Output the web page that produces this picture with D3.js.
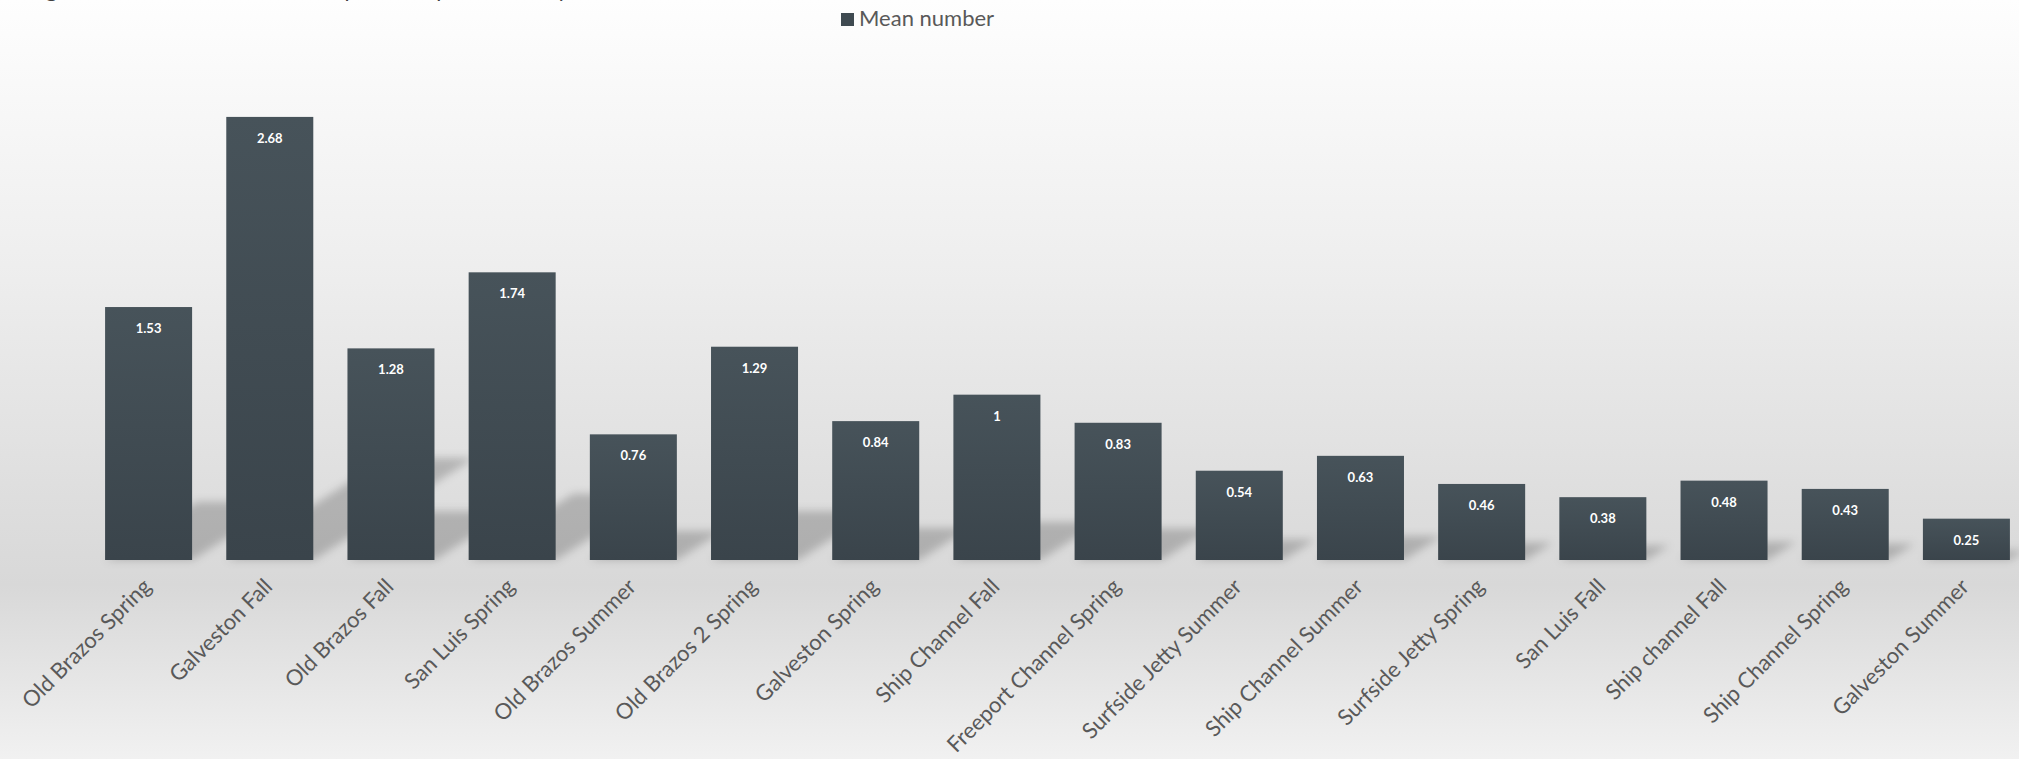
<!DOCTYPE html>
<html>
<head>
<meta charset="utf-8">
<script src="https://cdn.jsdelivr.net/npm/d3@7"></script>
<style>
  html, body { margin: 0; padding: 0; overflow: hidden; background: #fff; }
  svg { display: block; font-family: Lato, "Open Sans", sans-serif; }
</style>
</head>
<body>
<svg id="chart" width="2019" height="759"></svg>
<script>
// Mean number per site and season
const categories = [
  "Old Brazos Spring", "Galveston Fall", "Old Brazos Fall", "San Luis Spring",
  "Old Brazos Summer", "Old Brazos 2 Spring", "Galveston Spring", "Ship Channel Fall",
  "Freeport Channel Spring", "Surfside Jetty Summer", "Ship Channel Summer",
  "Surfside Jetty Spring", "San Luis Fall", "Ship channel Fall", "Ship Channel Spring",
  "Galveston Summer"
];
const meanNumber = [1.53, 2.68, 1.28, 1.74, 0.76, 1.29, 0.84, 1, 0.83, 0.54, 0.63, 0.46, 0.38, 0.48, 0.43, 0.25];
const seriesName = "Mean number";
const titleText = "Figure 4. Mean number of fishes per trawl per season by site";

const W = 2019, H = 759;
const baseY = 560;

const svg = d3.select("#chart");
const defs = svg.append("defs");

// chart area background: light at top, darker toward the axis, lighter at the bottom
const bg = defs.append("linearGradient").attr("id", "bg").attr("x1", 0).attr("y1", 0).attr("x2", 0).attr("y2", 1);
bg.append("stop").attr("offset", "0").attr("stop-color", "#fefefe");
bg.append("stop").attr("offset", "0.35").attr("stop-color", "#eeeeee");
bg.append("stop").attr("offset", "0.77").attr("stop-color", "#d8d8d8");
bg.append("stop").attr("offset", "1").attr("stop-color", "#f1f1f1");

const barGrad = defs.append("linearGradient").attr("id", "barFill").attr("x1", 0).attr("y1", 0).attr("x2", 0).attr("y2", 1);
barGrad.append("stop").attr("offset", "0").attr("stop-color", "#47535a");
barGrad.append("stop").attr("offset", "1").attr("stop-color", "#3a444b");

defs.append("filter").attr("id", "shadowBlur")
  .attr("x", "-30%").attr("y", "-30%").attr("width", "160%").attr("height", "160%")
  .append("feGaussianBlur").attr("stdDeviation", 4);

svg.append("rect").attr("width", W).attr("height", H).attr("fill", "url(#bg)");

const x = d3.scaleBand()
  .domain(categories)
  .range([88, 2027])
  .paddingInner(0.282)
  .paddingOuter(0.141);

const y = d3.scaleLinear().domain([0, 3]).range([baseY, 64]);

const data = categories.map((c, i) => ({ cat: c, v: meanNumber[i] }));

// perspective shadows falling back toward the upper right
const skew = Math.tan(20 * Math.PI / 180);
const squash = 0.23;
svg.append("g").attr("filter", "url(#shadowBlur)")
  .selectAll("path").data(data).join("path")
  .attr("d", d => {
    const x0 = x(d.cat), x1 = x0 + x.bandwidth();
    const h = y(0) - y(d.v);
    const dx = h * skew, dy = h * squash;
    return `M${x0},${baseY}L${x1},${baseY}L${x1 + dx},${baseY - dy}L${x0 + dx},${baseY - dy}Z`;
  })
  .attr("fill", "#000")
  .attr("fill-opacity", 0.2);

// bars
svg.append("g").selectAll("rect").data(data).join("rect")
  .attr("x", d => x(d.cat))
  .attr("y", d => y(d.v))
  .attr("width", x.bandwidth())
  .attr("height", d => y(0) - y(d.v))
  .attr("fill", "url(#barFill)");

// value labels inside the top of each bar
svg.append("g").selectAll("text").data(data).join("text")
  .attr("x", d => x(d.cat) + x.bandwidth() / 2)
  .attr("y", d => y(d.v) + 26)
  .attr("text-anchor", "middle")
  .attr("fill", "#ffffff")
  .attr("font-size", 13)
  .attr("font-weight", 700)
  .text(d => String(d.v));

// category axis, labels rotated 45 degrees
const xAxis = d3.axisBottom(x).tickSize(0).tickPadding(0);
const axisG = svg.append("g").attr("transform", `translate(0,${baseY})`).call(xAxis);
axisG.select(".domain").remove();
axisG.selectAll(".tick text")
  .attr("font-family", "Lato, 'Open Sans', sans-serif")
  .attr("font-size", 22)
  .attr("fill", "#595959")
  .attr("text-anchor", "end")
  .attr("dy", null)
  .attr("y", 0)
  .attr("transform", "translate(4,28) rotate(-45)");

// legend
const legend = svg.append("g");
legend.append("rect").attr("x", 841).attr("y", 13).attr("width", 13).attr("height", 13).attr("fill", "#3f4a51");
legend.append("text").attr("x", 859).attr("y", 26)
  .attr("font-size", 22).attr("fill", "#595959").text(seriesName);

// title, running off the top edge
svg.append("text").attr("x", 28).attr("y", -3)
  .attr("font-size", 22).attr("fill", "#404040").text(titleText);
</script>
</body>
</html>
